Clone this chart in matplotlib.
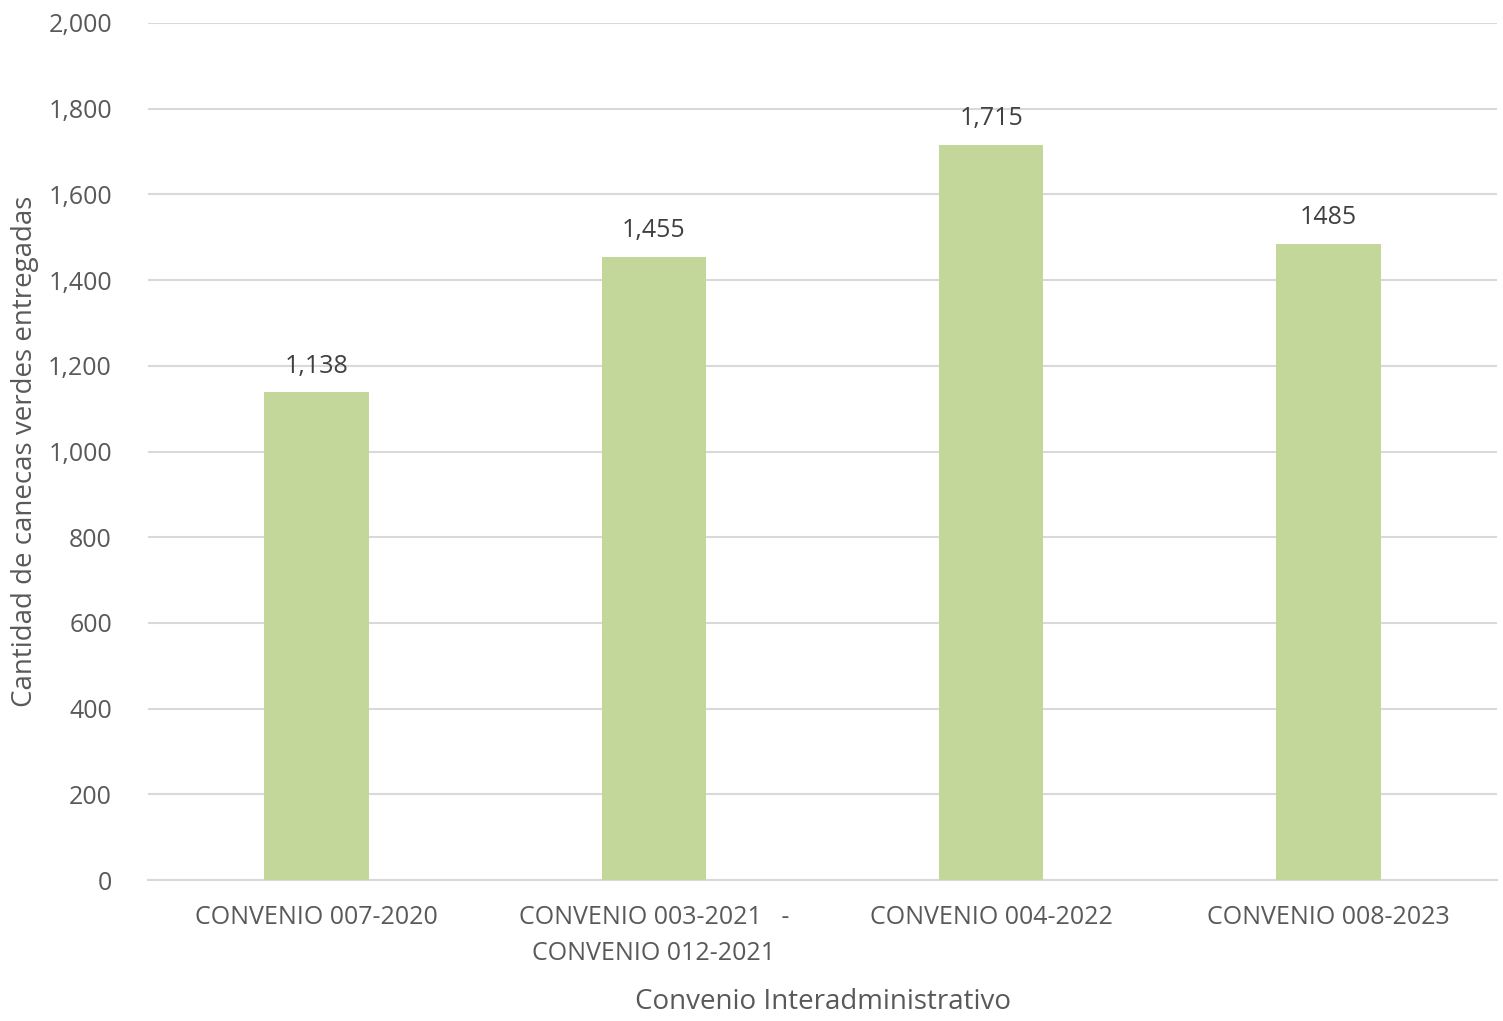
import matplotlib
matplotlib.use("Agg")
import matplotlib.pyplot as plt

categories = ["CONVENIO 007-2020", "CONVENIO 003-2021   -\nCONVENIO 012-2021",
              "CONVENIO 004-2022", "CONVENIO 008-2023"]
values = [1138, 1455, 1715, 1485]
value_labels = ["1,138", "1,455", "1,715", "1485"]
yticks = list(range(0, 2001, 200))

plt.rcParams["font.family"] = ["Open Sans", "DejaVu Sans"]
text_color = "#595959"

fig = plt.figure(figsize=(15.03, 10.21), dpi=100)
ax = fig.add_axes([0.0985, 0.138, 0.8975, 0.8395])

x = range(len(categories))
bars = ax.bar(x, values, width=0.31, color="#C4D79B", zorder=3)
for bar, lab in zip(bars, value_labels):
    ax.annotate(lab, (bar.get_x() + bar.get_width() / 2, bar.get_height()),
                xytext=(0, 10), textcoords="offset points", ha="center", va="bottom",
                fontsize=18, color="#404040")

ax.set_xlim(-0.5, 3.5)
ax.set_ylim(0, 2000)
ax.set_yticks(yticks)
ax.set_yticklabels(["{:,}".format(v) for v in yticks])
ax.set_xticks(list(x))
ax.set_xticklabels(categories, linespacing=1.55)
ax.tick_params(axis="both", length=0, labelsize=18, colors=text_color)
ax.tick_params(axis="y", pad=26)
ax.tick_params(axis="x", pad=18)
ax.grid(axis="y", color="#D9D9D9", linewidth=1.5, zorder=0)
for side in ["top", "right", "left"]:
    ax.spines[side].set_visible(False)
ax.spines["bottom"].set_color("#D9D9D9")
ax.spines["bottom"].set_linewidth(1.5)

ax.set_ylabel("Cantidad de canecas verdes entregadas", fontsize=20, color=text_color,
              va="center", ha="center")
ax.set_xlabel("Convenio Interadministrativo", fontsize=20, color=text_color,
              va="center", ha="center")
ax.yaxis.set_label_coords(-0.091, 0.5)
ax.xaxis.set_label_coords(0.5, -0.142)

fig.savefig("out.png", dpi=100)
